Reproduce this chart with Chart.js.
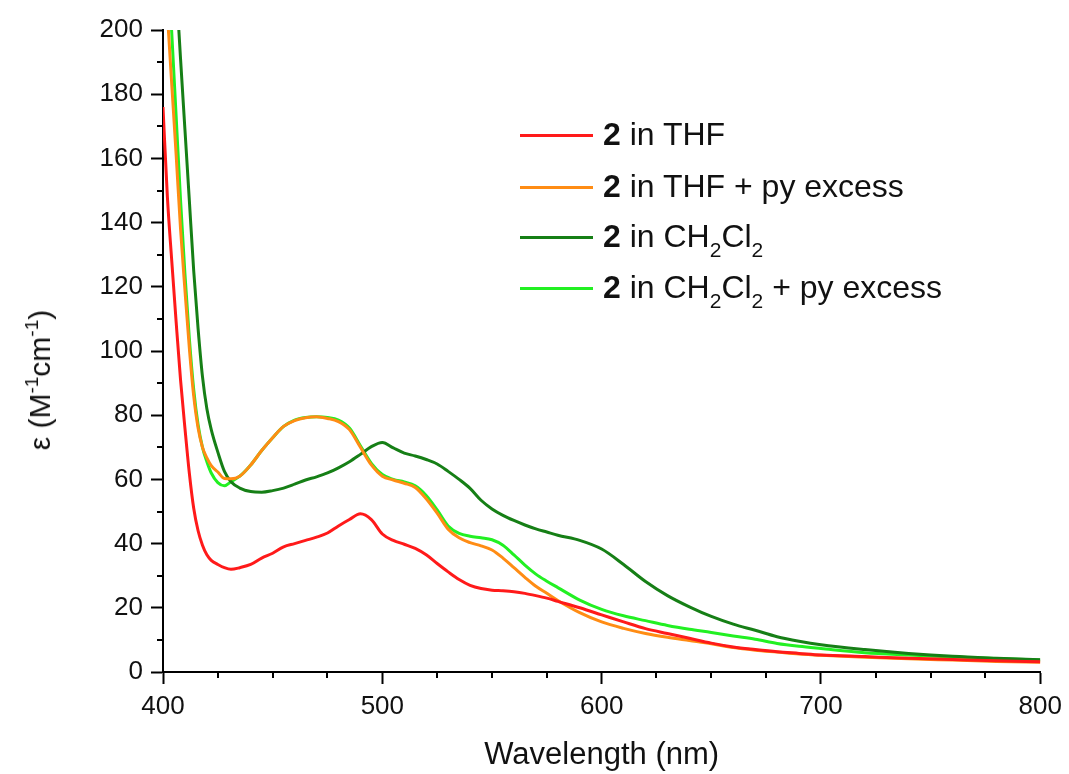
<!DOCTYPE html>
<html>
<head>
<meta charset="utf-8">
<script src="https://cdn.jsdelivr.net/npm/chart.js@4.4.1/dist/chart.umd.min.js"></script>
<style>
  body { margin: 0; background: #fff; }
  #wrap { position: relative; width: 1069px; height: 774px; font-family: "Liberation Sans", Arial, sans-serif; color: #111; }
  #yTitle { position: absolute; left: 40px; top: 380px; transform: translate(-50%, -50%) rotate(-90deg); font-size: 30px; white-space: nowrap; }
  #yTitle sup { font-size: 19px; vertical-align: 12px; line-height: 0; }
  .leg { position: absolute; left: 520px; height: 0; white-space: nowrap; font-size: 32px; }
  .leg .sw { position: absolute; left: 0; top: -1.5px; width: 73px; height: 3px; }
  .leg .tx { position: absolute; left: 83px; top: 0; transform: translateY(-52%); line-height: 1; }
  .leg sub { font-size: 21px; vertical-align: -10px; line-height: 0; }
</style>
</head>
<body>
<div id="wrap">
  <canvas id="spectra" width="1069" height="774"></canvas>
  <div id="yTitle">ε (M<sup>-1</sup>cm<sup>-1</sup>)</div>
  <div id="legend"></div>
</div>
<script>
// wavelength grid (nm)
const wavelengths = [400, 402, 404, 406, 408, 410, 412, 414, 416, 418, 420, 422, 425, 428, 431, 435, 440, 445, 450, 455,
  460, 465, 470, 475, 480, 485, 490, 495, 500, 505, 510, 515, 520, 525, 530, 535, 540, 545, 550, 555,
  560, 565, 570, 575, 580, 590, 600, 610, 620, 630, 640, 650, 660, 670, 680, 690, 700, 720, 740, 760, 780, 800];

// 2 in THF
const thfValues = [176, 148, 128, 109, 91, 76, 62, 51, 44, 39.5, 36.5, 34.8, 33.5, 32.5, 32, 32.5, 33.5, 35.5, 37, 39,
  40, 41, 42, 43.3, 45.5, 47.5, 49.3, 47.5, 43, 41, 39.8, 38.5, 36.5, 33.8, 31.2, 28.8, 27, 26, 25.5, 25.3,
  25, 24.5, 23.8, 23, 22, 20, 17.8, 15.6, 13.5, 12, 10.5, 9, 7.8, 7, 6.3, 5.8, 5.3, 4.8, 4.3, 3.9, 3.5, 3.2];

// 2 in THF + py excess
const thfPyValues = [228, 205, 183, 161, 138, 119, 101, 86, 76, 70, 66.7, 64.3, 62.3, 60.3, 60.2, 61, 64.5, 69, 73, 76.5,
  78.3, 79.2, 79.5, 79, 78, 75.5, 70, 64.5, 61, 59.8, 58.8, 57.5, 54, 49.5, 44.5, 41.8, 40.3, 39.3, 38, 35.5,
  32.5, 29.5, 26.7, 24.5, 22.3, 18.5, 15.6, 13.6, 12, 10.8, 9.8, 8.8, 7.6, 6.8, 6.2, 5.6, 5.2, 4.6, 4.1, 3.7, 3.3, 3];

// 2 in CH2Cl2
const dcmValues = [282, 260, 237, 214, 191, 169, 147, 125, 107, 92, 82, 75.5, 68.5, 62.5, 59.3, 57.3, 56.2, 56, 56.5, 57.3,
  58.5, 59.8, 60.8, 62, 63.6, 65.5, 67.8, 70.2, 71.5, 69.8, 68.2, 67.3, 66.2, 64.8, 62.5, 60, 57.2, 53.5, 50.8, 48.8,
  47.2, 45.8, 44.6, 43.6, 42.6, 41, 38.3, 33.5, 28.2, 23.8, 20.3, 17.3, 14.9, 13, 11, 9.6, 8.5, 7, 5.8, 4.9, 4.3, 3.8];

// 2 in CH2Cl2 + py excess
const dcmPyValues = [250, 224, 199, 173, 147, 124, 104, 88, 77, 70, 65.5, 62, 59, 58, 59.3, 61, 64.5, 69, 73, 76.5,
  78.5, 79.3, 79.5, 79.3, 78.5, 76, 70.5, 65, 61.5, 60, 59.2, 58, 55, 50.5, 45.5, 43.2, 42.3, 41.8, 41.2, 39.5,
  36.5, 33.3, 30.5, 28.3, 26.3, 22.4, 19.5, 17.5, 16, 14.5, 13.3, 12.3, 11.2, 10.2, 8.9, 8, 7.3, 6, 5.3, 4.7, 4.2, 3.7];

const seriesLabels = ['<b>2</b> in THF', '<b>2</b> in THF + py excess', '<b>2</b> in CH<sub>2</sub>Cl<sub>2</sub>',
  '<b>2</b> in CH<sub>2</sub>Cl<sub>2</sub> + py excess'];
const seriesColors = ['#ff1a1a', '#ff8c14', '#167f16', '#22f022'];
const seriesValues = [thfValues, thfPyValues, dcmValues, dcmPyValues];

const FONT = '"Liberation Sans", Arial, sans-serif';

// small ticks between the labelled ones
const minorTicks = {
    id: 'minorTicks',
    afterDraw(chart) {
        const c = chart.ctx, xs = chart.scales.x, ys = chart.scales.y, a = chart.chartArea;
        c.save();
        c.strokeStyle = '#000';
        c.lineWidth = 2;
        c.beginPath();
        for (let v = 10; v < 200; v += 20) {
            const py = Math.round(ys.getPixelForValue(v));
            c.moveTo(a.left - 6, py); c.lineTo(a.left, py);
        }
        for (let v = 425; v < 800; v += 25) {
            if (v % 100 === 0) continue;
            const px = Math.round(xs.getPixelForValue(v));
            c.moveTo(px, a.bottom); c.lineTo(px, a.bottom + 6);
        }
        c.stroke();
        c.restore();
    }
};

const datasets = seriesValues.map((vals, i) => ({
    label: seriesLabels[i],
    data: wavelengths.map((w, k) => ({ x: w, y: vals[k] })),
    borderColor: seriesColors[i],
    borderWidth: 3,
    pointRadius: 0,
    fill: false,
    cubicInterpolationMode: 'monotone'
}));

new Chart(document.getElementById('spectra').getContext('2d'), {
    type: 'line',
    data: { datasets: datasets },
    options: {
        responsive: false,
        animation: false,
        layout: { padding: { top: 30, right: 28, left: 0, bottom: 0 } },
        plugins: { legend: { display: false }, tooltip: { enabled: false } },
        scales: {
            x: {
                type: 'linear', min: 400, max: 800,
                afterFit: s => { s.height = 102; },
                border: { display: true, color: '#000', width: 2 },
                grid: { display: true, drawOnChartArea: false, drawTicks: true, tickLength: 12, tickWidth: 2, tickColor: '#000' },
                ticks: { stepSize: 100, padding: 7, color: '#111', font: { family: FONT, size: 26 } },
                title: { display: true, text: 'Wavelength (nm)', color: '#111', padding: 0, font: { family: FONT, size: 31 } }
            },
            y: {
                min: 0, max: 200,
                afterFit: s => { s.width = 163; },
                border: { display: true, color: '#000', width: 2 },
                grid: { display: true, drawOnChartArea: false, drawTicks: true, tickLength: 12, tickWidth: 2, tickColor: '#000' },
                ticks: { stepSize: 20, padding: 8, color: '#111', font: { family: FONT, size: 26 } }
            }
        }
    },
    plugins: [minorTicks]
});

// legend with bold numbers and subscripts
const legendTops = [135, 187, 237, 288];
const legendBox = document.getElementById('legend');
seriesLabels.forEach((lab, i) => {
    const row = document.createElement('div');
    row.className = 'leg';
    row.style.top = legendTops[i] + 'px';
    row.innerHTML = '<div class="sw" style="background:' + seriesColors[i] + '"></div><div class="tx">' + lab + '</div>';
    legendBox.appendChild(row);
});
</script>
</body>
</html>
